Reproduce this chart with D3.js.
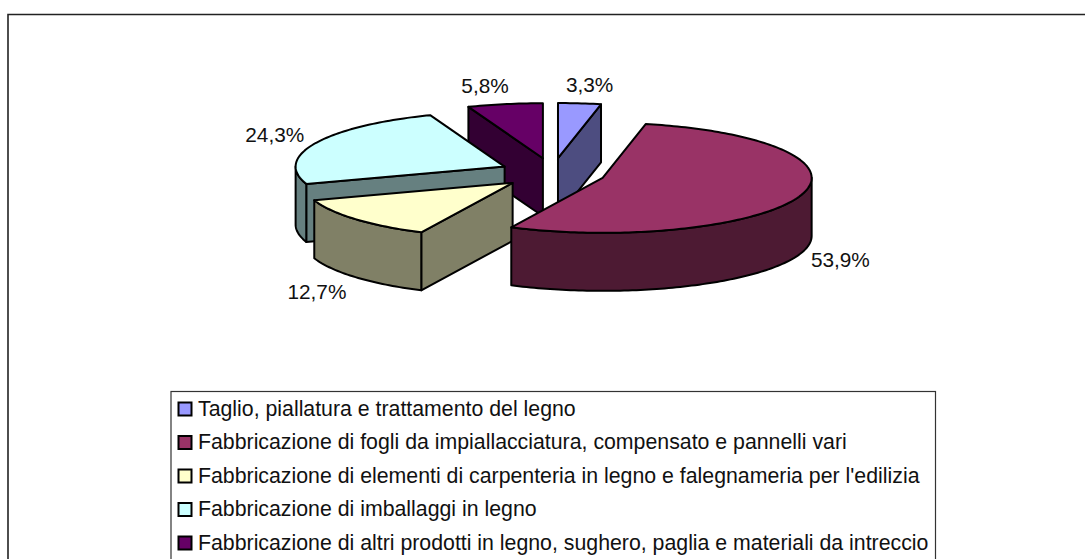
<!DOCTYPE html>
<html>
<head>
<meta charset="utf-8">
<script src="https://cdn.jsdelivr.net/npm/d3@7/dist/d3.min.js"></script>
<style>
  html, body { margin: 0; padding: 0; background: #fff; }
  svg { display: block; }
  text { font-family: "Liberation Sans", Arial, sans-serif; fill: #111; }
</style>
</head>
<body>
<svg id="chart" width="1085" height="559"></svg>
<script>
const categories = [
    "Taglio, piallatura e trattamento del legno",
    "Fabbricazione di fogli da impiallacciatura, compensato e pannelli vari",
    "Fabbricazione di elementi di carpenteria in legno e falegnameria per l'edilizia",
    "Fabbricazione di imballaggi in legno",
    "Fabbricazione di altri prodotti in legno, sughero, paglia e materiali da intreccio"
];
const shares = [3.3, 53.9, 12.7, 24.3, 5.8];
const topColors = ["#9999ff", "#993366", "#ffffcc", "#ccffff", "#660066"];
const sideColors = ["#4d4d80", "#4d1a33", "#808066", "#668080", "#330033"];
// painter's order, back slices first
const drawOrder = [4, 0, 3, 2, 1];
// label baseline-centre, relative to the slice rim at its mid angle
const labelOffsets = [[10, -11], [40, 71], [-38.5, 80], [-41, -1], [-20, -11]];

const cx = 552.5, cy = 173;
const rx = 209, ry = 55, depth = 58;
const explodeX = 53, explodeY = 15;

let svg = d3.select("#chart");

// frame, open on the right and bottom because it is cut by the page edge
svg.append("path")
    .attr("d", "M8,559V14.5H1085")
    .attr("fill", "none")
    .attr("stroke", "#222")
    .attr("stroke-width", 1.6);

let arcs = d3.pie().sort(null)(shares);
let unitX = d3.scaleLinear().domain([-1, 1]).range([-rx, rx]);
let unitY = d3.scaleLinear().domain([-1, 1]).range([ry, -ry]);

// screen position of a point on the slice rim
function rim(a, ox, oy, drop) {
    return [ox + unitX(Math.sin(a)), oy + unitY(Math.cos(a)) + drop];
}

function rimPoints(a0, a1, ox, oy, drop) {
    let n = Math.max(2, Math.ceil(Math.abs(a1 - a0) / 0.02));
    return d3.range(n + 1).map(i => rim(a0 + (a1 - a0) * i / n, ox, oy, drop));
}

let line = d3.line();

function addFace(g, pts, fill) {
    g.append("path")
        .attr("d", line(pts) + "Z")
        .attr("fill", fill)
        .attr("stroke", "#000")
        .attr("stroke-width", 2)
        .attr("stroke-linejoin", "round");
}

let pieG = svg.append("g");
drawOrder.forEach(function(i) {
    let d = arcs[i];
    let mid = (d.startAngle + d.endAngle) / 2;
    let ox = cx + explodeX * Math.sin(mid);
    let oy = cy - explodeY * Math.cos(mid);
    let g = pieG.append("g");

    // radial walls that face the viewer
    if (Math.sin(d.startAngle) < -1e-6) {
        let p = rim(d.startAngle, ox, oy, 0);
        addFace(g, [[ox, oy], p, [p[0], p[1] + depth], [ox, oy + depth]], sideColors[i]);
    }
    if (Math.sin(d.endAngle) > 1e-6) {
        let p = rim(d.endAngle, ox, oy, 0);
        addFace(g, [[ox, oy], p, [p[0], p[1] + depth], [ox, oy + depth]], sideColors[i]);
    }

    // outer wall, only the part on the near half of the ellipse
    let a0 = Math.max(d.startAngle, Math.PI / 2);
    let a1 = Math.min(d.endAngle, Math.PI * 1.5);
    if (a1 > a0) {
        let upper = rimPoints(a0, a1, ox, oy, 0);
        let lower = rimPoints(a1, a0, ox, oy, depth);
        addFace(g, upper.concat(lower), sideColors[i]);
    }

    // top surface
    addFace(g, [[ox, oy]].concat(rimPoints(d.startAngle, d.endAngle, ox, oy, 0)), topColors[i]);
});

// percentage labels
svg.append("g").selectAll("text")
    .data(arcs)
    .join("text")
    .attr("text-anchor", "middle")
    .attr("font-size", 20.8)
    .attr("x", function(d, i) {
        let mid = (d.startAngle + d.endAngle) / 2;
        return cx + explodeX * Math.sin(mid) + unitX(Math.sin(mid)) + labelOffsets[i][0];
    })
    .attr("y", function(d, i) {
        let mid = (d.startAngle + d.endAngle) / 2;
        return cy - explodeY * Math.cos(mid) + unitY(Math.cos(mid)) + labelOffsets[i][1];
    })
    .text(d => d3.format(".1f")(d.value).replace(".", ",") + "%");

// legend
let legend = svg.append("g");
legend.append("rect")
    .attr("x", 171).attr("y", 391.5)
    .attr("width", 764.5).attr("height", 175)
    .attr("fill", "#fff")
    .attr("stroke", "#333")
    .attr("stroke-width", 1.2);

let rowY = d3.scalePoint().domain(d3.range(categories.length)).range([409, 543]);
let rows = legend.selectAll("g.row")
    .data(categories)
    .join("g")
    .attr("class", "row")
    .attr("transform", (d, i) => "translate(0," + rowY(i) + ")");
rows.append("rect")
    .attr("x", 178.5).attr("y", -6.5)
    .attr("width", 13).attr("height", 13)
    .attr("fill", (d, i) => topColors[i])
    .attr("stroke", "#000")
    .attr("stroke-width", 2);
rows.append("text")
    .attr("x", 198).attr("y", 6.5)
    .attr("font-size", 21.3)
    .text(d => d);
</script>
</body>
</html>
